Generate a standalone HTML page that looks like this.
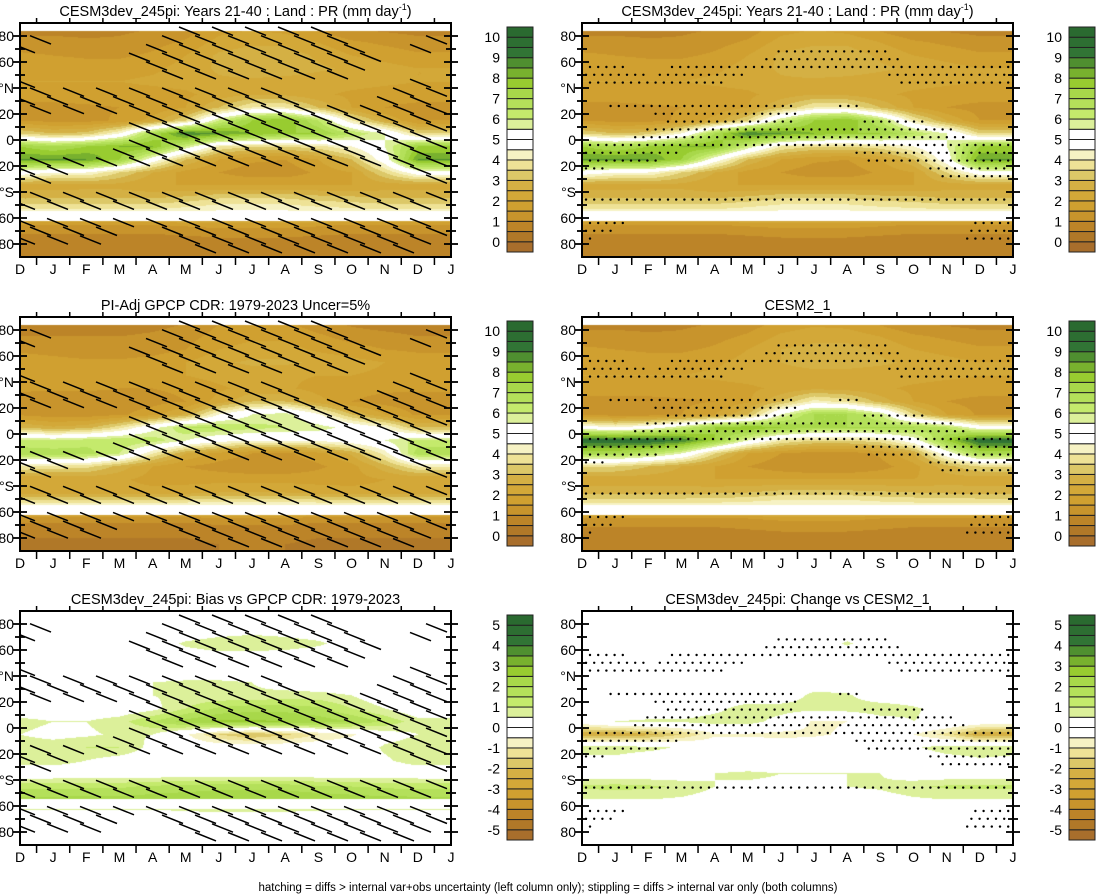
<!DOCTYPE html>
<html><head><meta charset="utf-8">
<style>
html,body{margin:0;padding:0;background:#fff;}
#wrap{position:relative;width:1097px;height:895px;overflow:hidden;font-family:"Liberation Sans",Arial,sans-serif;}
canvas{position:absolute;}
svg{position:absolute;left:0;top:0;}
</style></head>
<body>
<div id="wrap">
<svg id="ov" width="1097" height="895"></svg>
</div>
<script>
// ---- data (rows: lat 85..-85 step 10; columns: D J F M A M J J A S O N D J) ----
const months = ['D','J','F','M','A','M','J','J','A','S','O','N','D','J'];
const latRows = [85,75,65,55,45,35,25,15,5,-5,-15,-25,-35,-45,-55,-65,-75,-85];
const yTickLabels = ['80','60','°N','20','0','20','°S','60','80'];
const yTickLats = [80,60,40,20,0,-20,-40,-60,-80];
const precipTicks = [0,1,2,3,4,5,6,7,8,9,10];
const diffTicks = [-5,-4,-3,-2,-1,0,1,2,3,4,5];

const prModel = [
[0.8,0.8,0.8,0.9,1,1.2,1.8,2,1.8,1.4,1,0.9,0.8,0.8],
[1.2,1.2,1.1,1.1,1.3,1.6,2.2,2.4,2.4,2,1.6,1.4,1.2,1.2],
[1.6,1.5,1.4,1.4,1.6,2,2.6,2.8,2.8,2.4,2,1.8,1.6,1.6],
[2,1.9,1.8,1.8,1.9,2.2,2.6,2.8,2.8,2.6,2.4,2.2,2,2],
[2,2,2,2,2.1,2.2,2.4,2.4,2.3,2.2,2.2,2.1,2,2],
[1.8,1.8,1.8,1.8,1.8,1.9,2.2,2.5,2.4,2.1,1.9,1.8,1.8,1.8],
[1.3,1.3,1.4,1.5,1.6,2,3,4,4,3,2,1.5,1.3,1.3],
[1.5,1.3,1.3,1.6,2.2,3.5,6,7.5,8,6.5,4,2.5,1.5,1.5],
[3.5,3,3.2,4.5,7,9,8.5,8,7.5,7.5,6.5,5.5,3.5,3.5],
[7.5,7,7.5,8,8,6,4,3.5,3.5,3.8,4.5,5.5,7.5,7.5],
[8.5,8.5,8.5,7.5,5,3,2,1.6,1.5,2,3,5,8.5,8.5],
[5,4.5,4.5,3.5,2.5,1.8,1.5,1.2,1.2,1.6,2,3.5,5,5],
[2.2,2.2,2.3,2.3,2,2,2,2,2,2,2,2.2,2.2,2.2],
[3,3,3,3,3,3.2,3.5,3.5,3.5,3.3,3.2,3,3,3],
[4.2,4.2,4.2,4.2,4.2,4.4,4.6,4.6,4.6,4.4,4.3,4.2,4.2,4.2],
[1.5,1.5,1.5,1.5,1.5,1.6,1.7,1.7,1.7,1.6,1.5,1.5,1.5,1.5],
[0.8,0.8,0.8,0.8,0.8,0.9,1,1,1,0.9,0.8,0.8,0.8,0.8],
[0.5,0.5,0.5,0.5,0.5,0.5,0.6,0.6,0.6,0.5,0.5,0.5,0.5,0.5]];

const prObs = [
[0.6,0.6,0.6,0.7,0.8,1,1.5,1.7,1.6,1.2,0.9,0.7,0.6,0.6],
[1,1,1,1,1.1,1.3,1.7,1.9,1.9,1.6,1.3,1.2,1,1],
[1.4,1.3,1.2,1.2,1.3,1.5,2,2.2,2.2,1.9,1.7,1.5,1.4,1.4],
[1.8,1.7,1.6,1.6,1.7,2,2.4,2.6,2.6,2.4,2.2,2,1.8,1.8],
[1.8,1.8,1.8,1.8,1.9,2,2.2,2.2,2.1,2,2,1.9,1.8,1.8],
[1.6,1.6,1.6,1.5,1.5,1.6,1.9,2.2,2.1,1.8,1.7,1.6,1.6,1.6],
[1.2,1.1,1.1,1.2,1.3,1.5,2.2,3,3,2.2,1.5,1.3,1.2,1.2],
[1.4,1.2,1.2,1.4,1.8,2.6,4.5,5.5,5.8,4.6,3,2,1.4,1.4],
[3,2.6,2.8,3.8,5.2,6.5,6.5,6.2,6,5.8,5.2,4.5,3,3],
[6.2,6,6.3,6.5,6.3,5.5,4.8,4.5,4.5,4.6,5,5.5,6.2,6.2],
[6.8,6.8,6.7,6,4,2.5,1.8,1.5,1.4,1.8,2.6,4.2,6.8,6.8],
[4,3.8,3.7,2.8,2,1.5,1.3,1.1,1.1,1.4,1.8,2.8,4,4],
[2,2,2.1,2.1,1.8,1.8,1.8,1.8,1.8,1.8,1.8,2,2,2],
[2.2,2.2,2.2,2.2,2.2,2.3,2.5,2.5,2.5,2.3,2.2,2.2,2.2,2.2],
[4.4,4.4,4.4,4.4,4.4,4.5,4.6,4.6,4.6,4.5,4.4,4.4,4.4,4.4],
[1.2,1.2,1.2,1.2,1.2,1.2,1.3,1.3,1.3,1.2,1.2,1.2,1.2,1.2],
[0.6,0.6,0.6,0.6,0.6,0.6,0.7,0.7,0.7,0.6,0.6,0.6,0.6,0.6],
[0.4,0.4,0.4,0.4,0.4,0.4,0.5,0.5,0.5,0.4,0.4,0.4,0.4,0.4]];

const prCesm2 = [
[0.8,0.8,0.8,0.9,1,1.2,1.7,1.9,1.8,1.4,1,0.9,0.8,0.8],
[1.2,1.2,1.1,1.1,1.3,1.6,2.1,2.3,2.3,2,1.6,1.4,1.2,1.2],
[1.6,1.5,1.4,1.4,1.6,2,2.5,2.7,2.7,2.4,2,1.8,1.6,1.6],
[2,1.9,1.8,1.8,1.9,2.2,2.5,2.7,2.7,2.6,2.4,2.2,2,2],
[2,2,2,2,2.1,2.2,2.3,2.3,2.3,2.2,2.2,2.1,2,2],
[1.8,1.8,1.8,1.8,1.8,1.9,2.1,2.4,2.3,2.1,1.9,1.8,1.8,1.8],
[1.3,1.3,1.3,1.4,1.5,1.9,3,4.2,3.8,2.8,2,1.5,1.3,1.3],
[1.4,1.2,1.2,1.5,2,3,5.5,7,7,6,3.5,2,1.4,1.4],
[5,4.5,5,6,7.5,8,7.5,7,7,7,7,6.5,5,5],
[9.5,9.5,9.5,9,7.5,5.5,4,3.5,3.5,3.8,5,7.5,9.5,9.5],
[7,7,6.5,5.5,3.5,2,1.5,1.2,1.2,1.6,2.5,5,7,7],
[3.5,3.5,3,2.5,2,1.5,1.2,1,1,1.3,1.8,2.8,3.5,3.5],
[2.2,2.2,2.2,2.2,2,2,2,2,2,2,2,2.2,2.2,2.2],
[2.8,2.8,2.8,2.8,2.9,3,3.2,3.2,3.2,3.1,3,2.9,2.8,2.8],
[4.3,4.3,4.3,4.3,4.3,4.4,4.6,4.6,4.6,4.4,4.3,4.3,4.3,4.3],
[1.4,1.4,1.4,1.4,1.4,1.5,1.6,1.6,1.6,1.5,1.4,1.4,1.4,1.4],
[0.8,0.8,0.8,0.8,0.8,0.9,1,1,1,0.9,0.8,0.8,0.8,0.8],
[0.5,0.5,0.5,0.5,0.5,0.5,0.6,0.6,0.6,0.5,0.5,0.5,0.5,0.5]];

const biasObs = [
[0,0,0,0,0,0,0,0,0,0,0,0,0,0],
[0,0,0,0,0,0,0.2,0.3,0.2,0.1,0,0,0,0],
[0,0,0,0,0.1,0.6,0.8,0.9,0.8,0.6,0.2,0,0,0],
[0,0,0,0,0,0.2,0.3,0.2,0.2,0.1,0,0,0,0],
[0,0,0,0,0,0,0,0,0,0,0,0,0,0],
[0,0,0,0,0.5,0.6,0.6,0.5,0.2,0,0,0,0,0],
[0,0,0,0.3,0.5,0.6,0.6,0.6,0.7,0.7,0.5,0,0,0],
[0,0,0,0,0.3,1,1.6,1.8,1.8,1.6,1,0.5,0,0],
[0.7,0.5,0.5,0.8,1.5,2.2,2.6,2.6,2.5,2.3,2,1.4,0.7,0.7],
[0.5,0.3,0.4,0.6,0.5,-0.4,-1.5,-2,-1.6,-1,-0.6,0.2,0.5,0.5],
[0.8,0.8,1,1,0.3,0,0,0,0,0,0,0.6,0.8,0.8],
[0.8,0.8,0.5,0.2,0,0,0,0,0,0,0,0.4,0.8,0.8],
[0,0,0,0,0,0,0,0,0,0,0,0,0,0],
[1.3,1.3,1.4,1.4,1.6,1.7,1.8,1.8,1.8,1.6,1.5,1.4,1.3,1.3],
[2.2,2.2,2.2,2.2,2.3,2.4,2.5,2.5,2.5,2.4,2.3,2.2,2.2,2.2],
[0,0,0,0,0,0.3,0.4,0.4,0.4,0.2,0,0,0,0],
[0,0,0,0,0,0,0,0,0,0,0,0,0,0],
[0,0,0,0,0,0,0,0,0,0,0,0,0,0]];

const changeCesm2 = [
[0,0,0,0,0,0,0,0,0,0,0,0,0,0],
[0,0,0,0,0,0,0,0,0,0,0,0,0,0],
[0,0,0,0,0,0,0,0,0.6,0,0,0,0,0],
[0,0,0,0,0,0,0,0,0,0,0,0,0,0],
[0,0,0,0,0,0,0,0,0,0,0,0,0,0],
[0,0,0,0,0,0,0,0,0,0,0,0,0,0],
[0,0,0,0,0,0,0,0.7,0.6,0,0,0,0,0],
[0,0,0,0,0.3,0.8,0.8,0.7,0.8,0.9,0.6,0.2,0,0],
[0,0.5,0.6,0.6,0.8,0.8,0.2,-0.6,-0.5,0.2,0.5,0.3,0.1,0],
[-2.5,-2.5,-2.2,-1.5,-0.6,-0.6,-0.7,-0.6,-0.4,0,-0.5,-1.2,-2.5,-2.5],
[0.8,0.8,0.7,0.4,0,0,0,0,0,0,0.4,0.8,0.9,0.8],
[0.3,0.3,0,0,0,0,0,0,0,0,0,0.2,0.4,0.3],
[0,0,0,0,0.5,0.6,0.5,0.5,0.5,0.5,0,0,0,0],
[1.1,1.2,1.1,0.9,0.5,0.4,0.4,0.4,0.5,0.6,0.9,1.1,1.1,1.1],
[0.5,0.5,0.5,0.4,0.2,0.1,0.1,0.1,0.2,0.2,0.4,0.5,0.5,0.5],
[0,0,0,0,0,0,0,0,0,0,0,0,0,0],
[0,0,0,0,0,0,0,0,0,0,0,0,0,0],
[0,0,0,0,0,0,0,0,0,0,0,0,0,0]];

const hatchMask = [
"00000111110000","11000111111011","00001111111100","00001111111000",
"10000000000011","11111111100011","11111111111111","00001111111110",
"00001111111111","00001111111111","11111111111111","11000000000011",
"00000000000000","11111111111111","11111111111111","11111111111111",
"11100111111111","00000011111100"];
const stippleMask = [
"00000000000000","00000000000000","00000011110000","11011111111111",
"11111000001111","00000000000000","01111110100000","00011110011000",
"00111111111100","11111111111111","11100000011111","10000000000111",
"00000000000000","11111111111111","00000000000000","11000000000011",
"10000000000011","00000000000000"];

const palette = ['#a86e2c','#b07828','#bc8428','#c8942c','#d0a030','#d3a838','#d4b044','#dcc868','#eee296','#f6f2c4','#ffffff','#ffffff','#dcf09a','#c4ea6c','#b4e05a','#a8d84a','#98cc30','#78b12e','#4f8f30','#317435','#2d6e32','#2a6a30'];

const panels = [
 {name:'cesm3-years-21-40-hatched', title:'CESM3dev_245pi: Years 21-40 : Land : PR (mm day', sup:true, x0:20, y0:23, data:prModel, lo:0, ticks:precipTicks, hatch:true},
 {name:'cesm3-years-21-40-stippled', title:'CESM3dev_245pi: Years 21-40 : Land : PR (mm day', sup:true, x0:582, y0:23, data:prModel, lo:0, ticks:precipTicks, stip:true},
 {name:'gpcp-obs', title:'PI-Adj GPCP CDR: 1979-2023 Uncer=5%', x0:20, y0:317, data:prObs, lo:0, ticks:precipTicks, hatch:true},
 {name:'cesm2-1', title:'CESM2_1', x0:582, y0:317, data:prCesm2, lo:0, ticks:precipTicks, stip:true},
 {name:'bias-vs-gpcp', title:'CESM3dev_245pi: Bias vs GPCP CDR: 1979-2023', x0:20, y0:611, data:biasObs, lo:-5, ticks:diffTicks, hatch:true},
 {name:'change-vs-cesm2', title:'CESM3dev_245pi: Change vs CESM2_1', x0:582, y0:611, data:changeCesm2, lo:-5, ticks:diffTicks, stip:true}
];
const W=431, H=234;
const NS='http://www.w3.org/2000/svg';
const ov=document.getElementById('ov');
const wrap=document.getElementById('wrap');

function latAt(py){ return 90 - py/H*180; }
function latToY(lat){ return (90-lat)/180*H; }
function colAt(px){ return px/W*13; }
function sample(grid, px, py){
  const lat=latAt(py);
  let r=(85-lat)/10; r=Math.max(0,Math.min(17,r));
  let c=Math.max(0,Math.min(13,colAt(px)));
  const r0=Math.min(16,Math.floor(r)), c0=Math.min(12,Math.floor(c));
  const fr=r-r0, fc=c-c0;
  const g=(i,j)=>{const v=grid[i][j]; return typeof v==='string'?(v==='1'?1:0):v;};
  return g(r0,c0)*(1-fr)*(1-fc)+g(r0,c0+1)*(1-fr)*fc+g(r0+1,c0)*fr*(1-fc)+g(r0+1,c0+1)*fr*fc;
}
function masked(py){ const lat=latAt(py); return lat>84 || (lat<-54.5 && lat>-62.5); }
function colorFor(v,lo){ let k=Math.floor((v-lo)/0.5)+1; k=Math.max(0,Math.min(21,k)); return palette[k]; }
function hex(c){return [parseInt(c.substr(1,2),16),parseInt(c.substr(3,2),16),parseInt(c.substr(5,2),16)];}
function el(tag,attrs,parent){const e=document.createElementNS(NS,tag);for(const k in attrs)e.setAttribute(k,attrs[k]);(parent||ov).appendChild(e);return e;}

panels.forEach(p=>{
  const cv=document.createElement('canvas');
  cv.width=W; cv.height=H; cv.style.left=p.x0+'px'; cv.style.top=p.y0+'px';
  
  
  wrap.insertBefore(cv, ov);
  const ctx=cv.getContext('2d'); const img=ctx.createImageData(W,H);
  for(let y=0;y<H;y++){ const m=masked(y+0.5);
    for(let x=0;x<W;x++){
      let rgb=[255,255,255];
      if(!m) rgb=hex(colorFor(sample(p.data,x+0.5,y+0.5),p.lo));
      const i=(y*W+x)*4; img.data[i]=rgb[0];img.data[i+1]=rgb[1];img.data[i+2]=rgb[2];img.data[i+3]=255;
    }}
  ctx.putImageData(img,0,0);
  const g=el('g',{});
  
  
  if(p.hatch){ let row=0;
    for(let gy=4; gy<H-6; gy+=8.7, row++){
      for(let gx=(row%2?16:0)-6; gx<W-20; gx+=33){
        const cx=gx+10, cy=gy+4;
        if(masked(cy)) continue;
        if(sample(hatchMask,Math.max(0,cx),cy)>0.5){
          const ln=el('line',{x1:p.x0+Math.max(0,gx),y1:p.y0+gy+(gx<0?-gx*0.4:0),x2:p.x0+gx+21,y2:p.y0+gy+8.4,stroke:'#000','stroke-width':1.5},g);
          
          
        }
      }}
  }
  if(p.stip){ let row=0;
    for(let gy=5; gy<H-2; gy+=7.8, row++){
      for(let gx=4+(row%2?4:0); gx<W-2; gx+=8.2){
        if(sample(stippleMask,gx,gy)>0.55){
          const d=el('circle',{cx:p.x0+gx,cy:p.y0+gy,r:1.2,fill:'#000'},g);
          
          
        }
      }}
  }
  const fr=el('rect',{x:p.x0,y:p.y0,width:W,height:H,fill:'none',stroke:'#000','stroke-width':2},g);
  
  
  for(let lat=-80; lat<=80; lat+=10){
    const yy=p.y0+latToY(lat); const major=(lat%20===0);
    const L=major?7:5;
    el('line',{x1:p.x0-L,y1:yy,x2:p.x0+L,y2:yy,stroke:'#000','stroke-width':1.8},g);
    el('line',{x1:p.x0+W-L,y1:yy,x2:p.x0+W+L,y2:yy,stroke:'#000','stroke-width':1.8},g);
  }
  yTickLats.forEach((lat,i)=>{
    const t=el('text',{x:p.x0-6,y:p.y0+latToY(lat)+5,'text-anchor':'end','font-size':'14px',fill:'#000'},g);
    t.textContent=yTickLabels[i];
    
    
  });
  const dx=W/13;
  for(let i=0;i<13;i++){
    const xx=p.x0+(i+0.5)*dx;
    el('line',{x1:xx,y1:p.y0+H,x2:xx,y2:p.y0+H+8,stroke:'#000','stroke-width':1.5},g);
    el('line',{x1:xx,y1:p.y0,x2:xx,y2:p.y0-5,stroke:'#000','stroke-width':1.5},g);
  }
  months.forEach((m,i)=>{
    const t=el('text',{x:p.x0+i*dx,y:p.y0+H+17,'text-anchor':'middle','font-size':'14px',fill:'#000'},g);
    t.textContent=m;
    
    
  });
  const tt=el('text',{x:p.x0+W/2,y:p.y0-7,'text-anchor':'middle','font-size':'14.5px',fill:'#000'},g);
  tt.textContent=p.title;
  if(p.sup){ const s=el('tspan',{dy:-6,'font-size':'9px'},tt); s.textContent='-1'; const s2=el('tspan',{dy:6},tt); s2.textContent=')'; }
  
  
  const cbx=p.x0+487, cby=p.y0+4, bh=225/22;
  const cb=el('g',{},g);
  
  
  for(let k=0;k<22;k++){
    el('rect',{x:cbx,y:cby+225-(k+1)*bh,width:26,height:bh,fill:palette[k],stroke:'#222','stroke-width':1},cb);
  }
  p.ticks.forEach((v)=>{
    const k=(v-p.lo)/0.5+1; const yy=cby+225-k*bh;
    const t=el('text',{x:cbx-7,y:yy+5,'text-anchor':'end','font-size':'14px',fill:'#000'},cb);
    t.textContent=String(v);
    
    
  });
});
const ft=el('text',{x:548,y:891,'text-anchor':'middle','font-size':'11.5px',fill:'#000'});
ft.textContent='hatching = diffs > internal var+obs uncertainty (left column only); stippling = diffs > internal var only (both columns)';


</script>
</body></html>
